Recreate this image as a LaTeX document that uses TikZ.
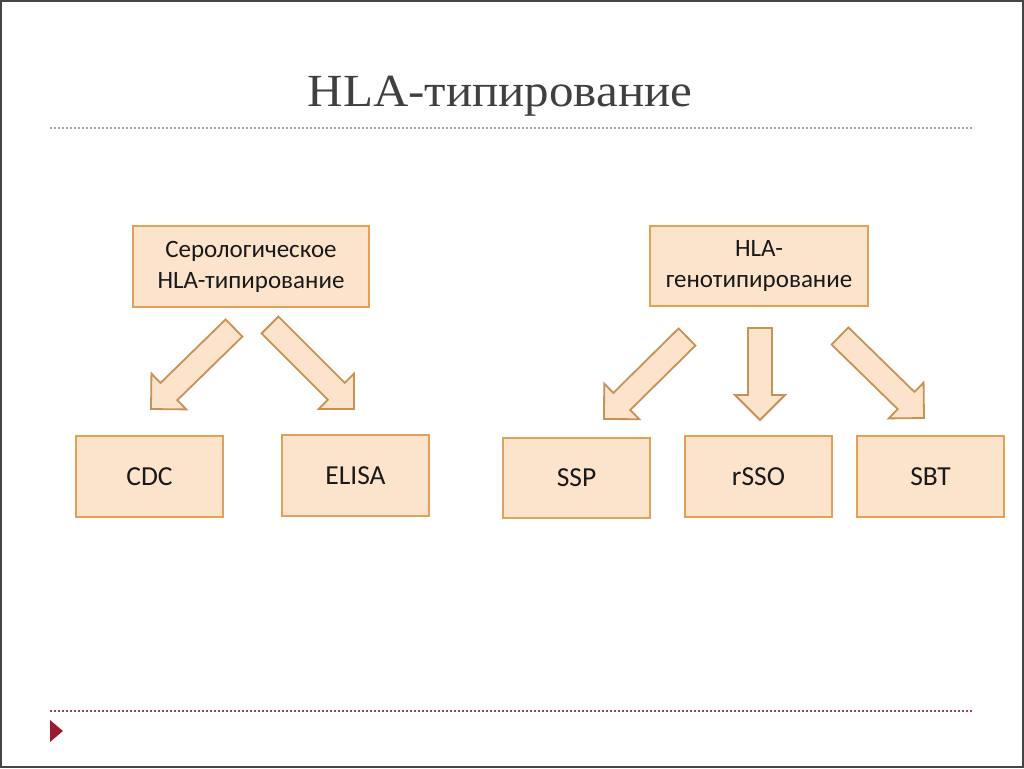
\documentclass[tikz,border=0pt]{standalone}
\usepackage{fontspec}
\setmainfont{Carlito}
\newfontfamily\titlefont{Liberation Serif}
\usetikzlibrary{calc}
\definecolor{boxfill}{RGB}{252,228,204}
\definecolor{boxline}{RGB}{226,160,88}
\definecolor{arrline}{RGB}{200,145,85}
\definecolor{titlegray}{RGB}{64,64,64}
\definecolor{dashtop}{RGB}{185,155,155}
\definecolor{dashbot}{RGB}{160,70,80}
\definecolor{tri}{RGB}{155,27,48}
\definecolor{frame}{RGB}{70,70,70}
\newcommand\blockarr[2]{%
  \path (#1) coordinate (T) (#2) coordinate (S);
  \path ($(T)!25pt!(S)$) coordinate (B);
  \draw[barrow] (T) -- ($(B)!25pt!90:(T)$) -- ($(B)!12pt!90:(T)$) -- ($(S)!12pt!90:(T)$)
    -- ($(S)!12pt!-90:(T)$) -- ($(B)!12pt!-90:(T)$) -- ($(B)!25pt!-90:(T)$) -- cycle;}
\begin{document}
\begin{tikzpicture}[x=1pt,y=-1pt,
  box/.style={draw=boxline, fill=boxfill, line width=1.6pt, inner sep=0pt,
    font=\fontsize{25}{31}\selectfont, text=black!90, align=center},
  smallbox/.style={box, minimum width=147pt, minimum height=81pt, font=\fontsize{27.5}{31}\selectfont},
  barrow/.style={draw=arrline, fill=boxfill, line width=1.8pt, line join=miter},
  dline/.style={line width=1.3pt, dash pattern=on 2pt off 2pt}]
\useasboundingbox (0,0) rectangle (1024,768);
\fill[white] (0,0) rectangle (1024,768);
\draw[frame, line width=2.5pt] (0.5,0.5) rectangle (1023.5,767);

\node[font=\titlefont\fontsize{46}{50}\selectfont, text=titlegray, inner sep=0pt] (title) at (500,96) {\scalebox{1.065}[1]{HLA-типирование}};
\draw[dline, dashtop] (50,128) -- (972,128);
\draw[dline, dashbot] (50,711) -- (972,711);
\fill[tri] (50,720) -- (63,731) -- (50,742) -- cycle;

\node[box, minimum width=236pt, minimum height=81pt] (sero) at (251,266.5) {Серологическое\\HLA-типирование};
\node[box, minimum width=218pt, minimum height=80pt] (geno) at (759,266) {HLA-\\генотипирование};
\node[smallbox] (cdc) at (149.5,476.5) {CDC};
\node[smallbox] (elisa) at (355.5,475.5) {ELISA};
\node[smallbox, minimum height=80pt] (ssp) at (576.5,478) {SSP};
\node[smallbox] (rsso) at (758.5,476.5) {rSSO};
\node[smallbox] (sbt) at (930.5,476.5) {SBT};

\coordinate (t1) at (151,409); \coordinate (s1) at (234,328);
\coordinate (t2) at (354,409); \coordinate (s2) at (270,325);
\coordinate (t3) at (604,419); \coordinate (s3) at (687,337);
\coordinate (t4) at (760,420); \coordinate (s4) at (760,328);
\coordinate (t5) at (924,418); \coordinate (s5) at (840,336);
\blockarr{t1}{s1}
\blockarr{t2}{s2}
\blockarr{t3}{s3}
\blockarr{t4}{s4}
\blockarr{t5}{s5}
\end{tikzpicture}
\end{document}
